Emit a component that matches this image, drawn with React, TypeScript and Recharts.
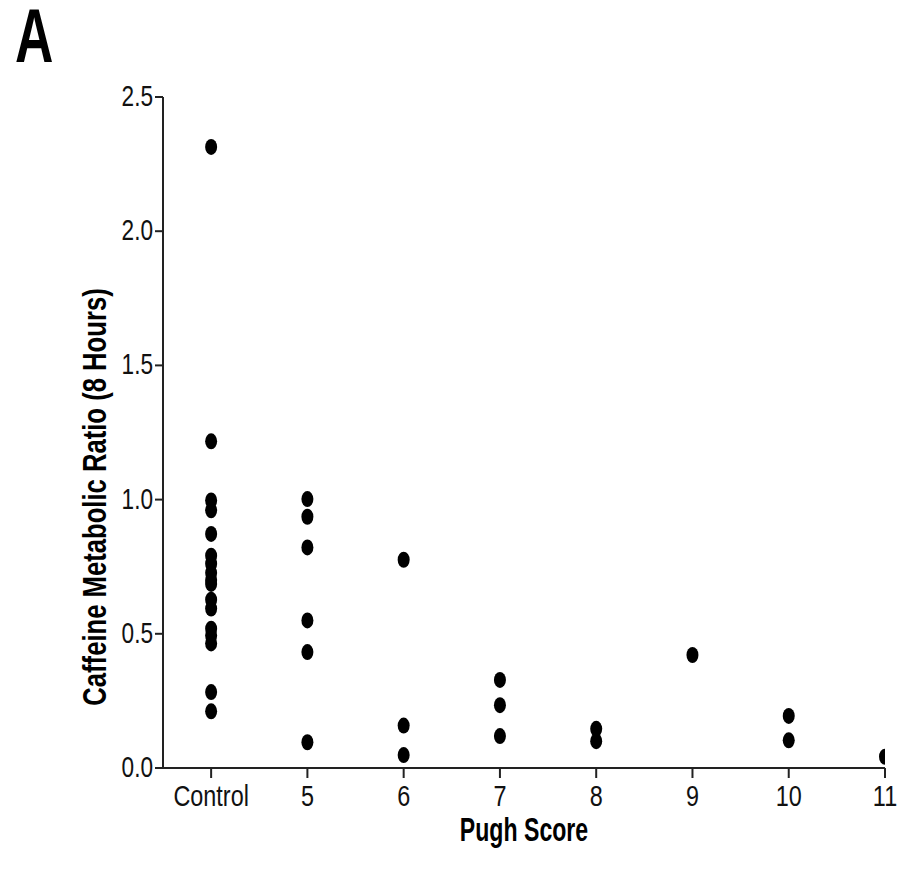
import React from "react";
import { ScatterChart, Scatter, XAxis, YAxis } from "recharts";

const categories = ["Control", "5", "6", "7", "8", "9", "10", "11"];
const categoryPositions = [4, 5, 6, 7, 8, 9, 10, 11];
const yTicks = [0, 0.5, 1.0, 1.5, 2.0, 2.5];

const controlValues = [2.314, 1.217, 0.997, 0.96, 0.872, 0.791, 0.761, 0.727, 0.7, 0.686, 0.627, 0.594, 0.519, 0.494, 0.464, 0.283, 0.211];
const pugh5Values = [1.002, 0.936, 0.822, 0.55, 0.432, 0.096];
const pugh6Values = [0.776, 0.158, 0.048];
const pugh7Values = [0.328, 0.234, 0.119];
const pugh8Values = [0.146, 0.1];
const pugh9Values = [0.421];
const pugh10Values = [0.194, 0.103];
const pugh11Values = [0.042];

const groups = [controlValues, pugh5Values, pugh6Values, pugh7Values, pugh8Values, pugh9Values, pugh10Values, pugh11Values];
const points = groups.flatMap((vals, i) => vals.map((v) => ({ x: categoryPositions[i], y: v })));

const SANS = '"Liberation Sans", Arial, sans-serif';
const SQUEEZE = 0.78;

const Dot = (props: any) => {
  const { cx, cy } = props;
  if (cx == null || cy == null) return null;
  return <ellipse cx={cx} cy={cy} rx={6} ry={8} fill="#000" />;
};

const XTick = (props: any) => {
  const { x, y, payload } = props;
  const label = categories[categoryPositions.indexOf(payload.value)] ?? String(payload.value);
  return (
    <text
      x={0}
      y={0}
      transform={`translate(${x},${y + 22}) scale(${SQUEEZE},1)`}
      textAnchor="middle"
      fontFamily={SANS}
      fontSize={30}
      fill="#111"
    >
      {label}
    </text>
  );
};

const YTick = (props: any) => {
  const { x, y, payload } = props;
  return (
    <text
      x={0}
      y={0}
      transform={`translate(${x},${y + 9}) scale(${SQUEEZE},1)`}
      textAnchor="end"
      fontFamily={SANS}
      fontSize={29}
      fill="#111"
    >
      {Number(payload.value).toFixed(1)}
    </text>
  );
};

const YLabel = () => (
  <text
    x={0}
    y={0}
    transform="translate(106,497) rotate(-90) scale(0.777,1)"
    textAnchor="middle"
    fontFamily={SANS}
    fontWeight="bold"
    fontSize={33}
    fill="#000"
  >
    Caffeine Metabolic Ratio (8 Hours)
  </text>
);

const XLabel = () => (
  <text
    x={0}
    y={0}
    transform="translate(524,841) scale(0.7,1)"
    textAnchor="middle"
    fontFamily={SANS}
    fontWeight="bold"
    fontSize={33}
    fill="#000"
  >
    Pugh Score
  </text>
);

export default function App() {
  return (
    <div style={{ position: "absolute", left: 0, top: 0, width: 897, height: 872, background: "#fff" }}>
      <svg width={120} height={100} style={{ position: "absolute", left: 0, top: 0 }}>
        <text
          x={0}
          y={0}
          transform="translate(15,62) scale(0.7,1)"
          fontFamily={SANS}
          fontWeight="bold"
          fontSize={76}
          fill="#000"
        >
          A
        </text>
      </svg>
      <ScatterChart width={897} height={872} margin={{ top: 97, right: 12, bottom: 0, left: 0 }} style={{ position: "absolute", left: 0, top: 0 }}>
        <XAxis
          type="number"
          dataKey="x"
          domain={[3.5, 11]}
          ticks={categoryPositions}
          interval={0}
          allowDataOverflow
          height={104}
          tickSize={10}
          tickMargin={6}
          stroke="#222"
          strokeWidth={2}
          tick={<XTick />}
          label={<XLabel />}
        />
        <YAxis
          type="number"
          dataKey="y"
          domain={[0, 2.5]}
          ticks={yTicks}
          interval={0}
          allowDataOverflow
          width={163}
          tickSize={8}
          tickMargin={2}
          stroke="#222"
          strokeWidth={2}
          tick={<YTick />}
          label={<YLabel />}
        />
        <Scatter data={points} shape={<Dot />} isAnimationActive={false} />
      </ScatterChart>
    </div>
  );
}
